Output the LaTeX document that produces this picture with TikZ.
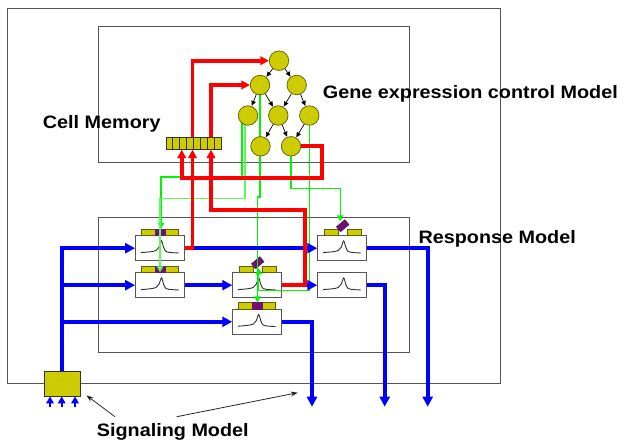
\documentclass[tikz,border=0pt]{standalone}
\usepackage{fontspec}
\usepackage{graphicx}
\setmainfont{Liberation Sans}
\usetikzlibrary{arrows.meta,calc}
\definecolor{geneY}{RGB}{204,204,0}
\definecolor{geneB}{RGB}{95,95,10}
\definecolor{purp}{RGB}{112,16,112}
\definecolor{frameG}{RGB}{85,85,85}
\definecolor{gA}{RGB}{0,245,0}
\definecolor{gB}{RGB}{90,250,90}
\pgfdeclarelayer{fg}
\pgfsetlayers{main,fg}
\newcommand{\rmfullbar}[1]{%
  \draw[ybar] ($(#1.north)+(-18.5,-6.4)$) rectangle ($(#1.north)+(18.5,0)$);
  \draw[pbar] ($(#1.north)+(-4.7,-6.4)$) rectangle ($(#1.north)+(4.7,0)$);}
\newcommand{\rmsplitbar}[2]{%
  \draw[ybar] ($(#1.north)+(-17.9,-6.4)$) rectangle ($(#1.north)+(-4.3,0)$);
  \draw[ybar] ($(#1.north)+(5.2,-6.4)$) rectangle ($(#1.north)+(18.6,0)$);
  \node[diam] (#2) at ($(#1.north)+(0.5,-9.5)$) {};}
\begin{document}
\begin{tikzpicture}[x=1pt,y=-1pt,
  frame/.style={draw=frameG, line width=0.9pt, rectangle, inner sep=0},
  lbl/.style={anchor=base west, inner sep=0, font=\fontsize{18}{21}\selectfont\bfseries},
  gene/.style={circle, draw=geneB, fill=geneY, minimum size=19.5pt, inner sep=0, line width=0.7pt},
  garrow/.style={draw=black, line width=0.7pt, -{Triangle[length=5pt,width=4.5pt]}, shorten >=0.3pt},
  rbox/.style={draw=frameG, fill=white, line width=0.9pt, rectangle, minimum width=49pt, minimum height=25pt, inner sep=0,
    path picture={\draw[line width=0.9pt, black!80, shift={(path picture bounding box.center)}]
      plot[smooth, tension=0.55] coordinates {(-19,4.4) (-10,3.6) (-4,2.3) (-1,-1) (1.5,-7.3) (3.6,-1) (6,3.3) (12,4.4) (18.5,4.7)};}},
  ybar/.style={draw=geneB, fill=geneY, line width=0.6pt},
  pbar/.style={draw=purp, fill=purp, line width=0.4pt},
  diam/.style={rectangle, draw=purp!70!black, fill=purp, minimum width=11pt, minimum height=6.5pt, inner sep=0, rotate=40},
  regbox/.style={rectangle, draw=black!80, fill=geneY, line width=0.7pt, minimum width=55.7pt, minimum height=12pt, inner sep=0},
  sigbox/.style={rectangle, draw=black!80, fill=geneY, line width=0.8pt, minimum width=36pt, minimum height=24.3pt, inner sep=0},
  rline/.style={draw=red, line width=3.7pt, -{Triangle[length=8.5pt,width=8.5pt]}},
  bline/.style={draw=blue, line width=3.8pt, -{Triangle[length=10pt,width=10pt]}},
  sline/.style={draw=blue, line width=2pt, -{Triangle[length=7pt,width=7.5pt]}},
  gline/.style={draw=gA, line width=1.1pt, -{Triangle[length=6pt,width=6.5pt]}},
  gline2/.style={draw=gB, line width=1.3pt, -{Triangle[length=6pt,width=6.5pt]}},
  aline/.style={draw=black!85, line width=0.8pt, -{Stealth[length=7pt,width=5pt]}}
]
\useasboundingbox (0,0) rectangle (624,442);

% frames
\node[frame, minimum width=493pt, minimum height=375pt] (cell) at (253.5,195.9) {};
\node[frame, minimum width=311pt, minimum height=135.7pt] (gemod) at (254,94.15) {};
\node[frame, minimum width=311pt, minimum height=134.6pt] (rmod) at (254,285) {};

% labels
\node[lbl] (gl) at (322.7,98.3) {\scalebox{1.1}[1]{Gene expression control Model}};
\node[lbl] (cl) at (42.7,128.7) {\scalebox{1.1}[1]{Cell Memory}};
\node[lbl] (rl) at (418.3,243.3) {\scalebox{1.1}[1]{Response Model}};
\node[lbl] (sl) at (96.7,436) {\scalebox{1.1}[1]{Signaling Model}};

% response boxes
\node[rbox] (rb1) at (160,248.2) {};
\node[rbox] (rb2) at (160,285.2) {};
\node[rbox] (rb3) at (257.2,285.2) {};
\node[rbox] (rb4) at (257.2,321.8) {};
\node[rbox] (rb5) at (342.2,248.2) {};
\node[rbox] (rb6) at (342.2,285.2) {};
\rmfullbar{rb1}
\rmfullbar{rb2}
\rmfullbar{rb4}
\rmsplitbar{rb3}{d3}
\rmsplitbar{rb5}{d5}

% register and signaling box
\node[regbox] (reg) at (193.85,143.3) {};
\foreach \i in {1,...,7} {
  \draw[black!80, line width=0.6pt] ($(reg.north west)+(\i*6.9625,0)$) -- ($(reg.south west)+(\i*6.9625,0)$);
}
\node[sigbox] (sig) at (62.3,383.85) {};

% gene network (on top)
\begin{pgfonlayer}{fg}
\node[gene] (g1) at (279,60.7) {};
\node[gene] (g2) at (260,85) {};
\node[gene] (g3) at (296.7,85) {};
\node[gene] (g4) at (248,115.5) {};
\node[gene] (g5) at (278.3,115.5) {};
\node[gene] (g6) at (309.3,115.5) {};
\node[gene] (g7) at (260.5,146.3) {};
\node[gene] (g8) at (291,146.3) {};
\draw[garrow] (g1) -- (g2);
\draw[garrow] (g1) -- (g3);
\draw[garrow] (g2) -- (g4);
\draw[garrow] (g2) -- (g5);
\draw[garrow] (g3) -- (g5);
\draw[garrow] (g3) -- (g6);
\draw[garrow] (g5) -- (g7);
\draw[garrow] (g5) -- (g8);
\draw[garrow] (g6) -- (g8);
\end{pgfonlayer}

% green regulation lines
\draw[gline] ($(g4.center)+(-6,0)$) -- ++(0,61.5) -| ($(rb1.north)+(1,-6.4)$);
\draw[gline2] ($(g4.center)+(-3,0)$) -- ++(0,82.8) -| (rb2.north);
\draw[gline] (g2.center) -- ++(0,112) -- ++(-2.5,0) -- ($(rb4.north)+(0.3,-6.4)$);
\draw[gline] (g6.center) |- ($(rb3.center)+(1.5,5)$) -- ($(rb3.north)+(1.5,-4)$);
\draw[gline] (g8.center) -- ++(0,42) -| ($(rb5.north)+(-2,-14)$);

% blue signal lines
\coordinate (out1) at (312,406.7);
\coordinate (out2) at (384.7,406.7);
\coordinate (out3) at (427.7,406.7);
\draw[bline] (sig.north) |- (rb1.west);
\draw[bline] (sig.north |- rb2.west) -- (rb2.west);
\draw[bline] (sig.north |- rb4.west) -- (rb4.west);
\draw[bline] (rb1.east) -- (rb5.west);
\draw[bline] (rb2.east) -- (rb3.west);
\draw[bline] (rb3.east) -- (rb6.west);
\draw[bline] (rb5.east) -| (out3);
\draw[bline] (rb6.east) -| (out2);
\draw[bline] (rb4.east) -| (out1);
\coordinate (in1) at (50,407);
\coordinate (in2) at (61.7,407);
\coordinate (in3) at (75,407);
\draw[sline] (in1) -- (in1 |- sig.south);
\draw[sline] (in2) -- (in2 |- sig.south);
\draw[sline] (in3) -- (in3 |- sig.south);

% red memory lines
\draw[rline] ($(reg.north)+(-1.35,0)$) |- (g1.west);
\draw[rline] ($(reg.north)+(17.15,0)$) |- (g2.west);
\draw[rline] (g8.east) -- ++(21,0) -- ++(0,32) -| ($(reg.south)+(-12.15,0)$);
\draw[rline] (rb1.east) -| ($(reg.south)+(-1.35,0)$);
\draw[rline] (rb3.east) -- ++(23,0) -- ++(0,-75.2) -| ($(reg.south)+(17.15,0)$);

% annotation arrows
\coordinate (sa1) at (115,416.7);
\coordinate (sa2) at (176.7,416.7);
\coordinate (st2) at (297.7,392.7);
\draw[aline] (sa1) -- ($(sig.south east)+(5.7,-1)$);
\draw[aline] (sa2) -- (st2);
\end{tikzpicture}
\end{document}
